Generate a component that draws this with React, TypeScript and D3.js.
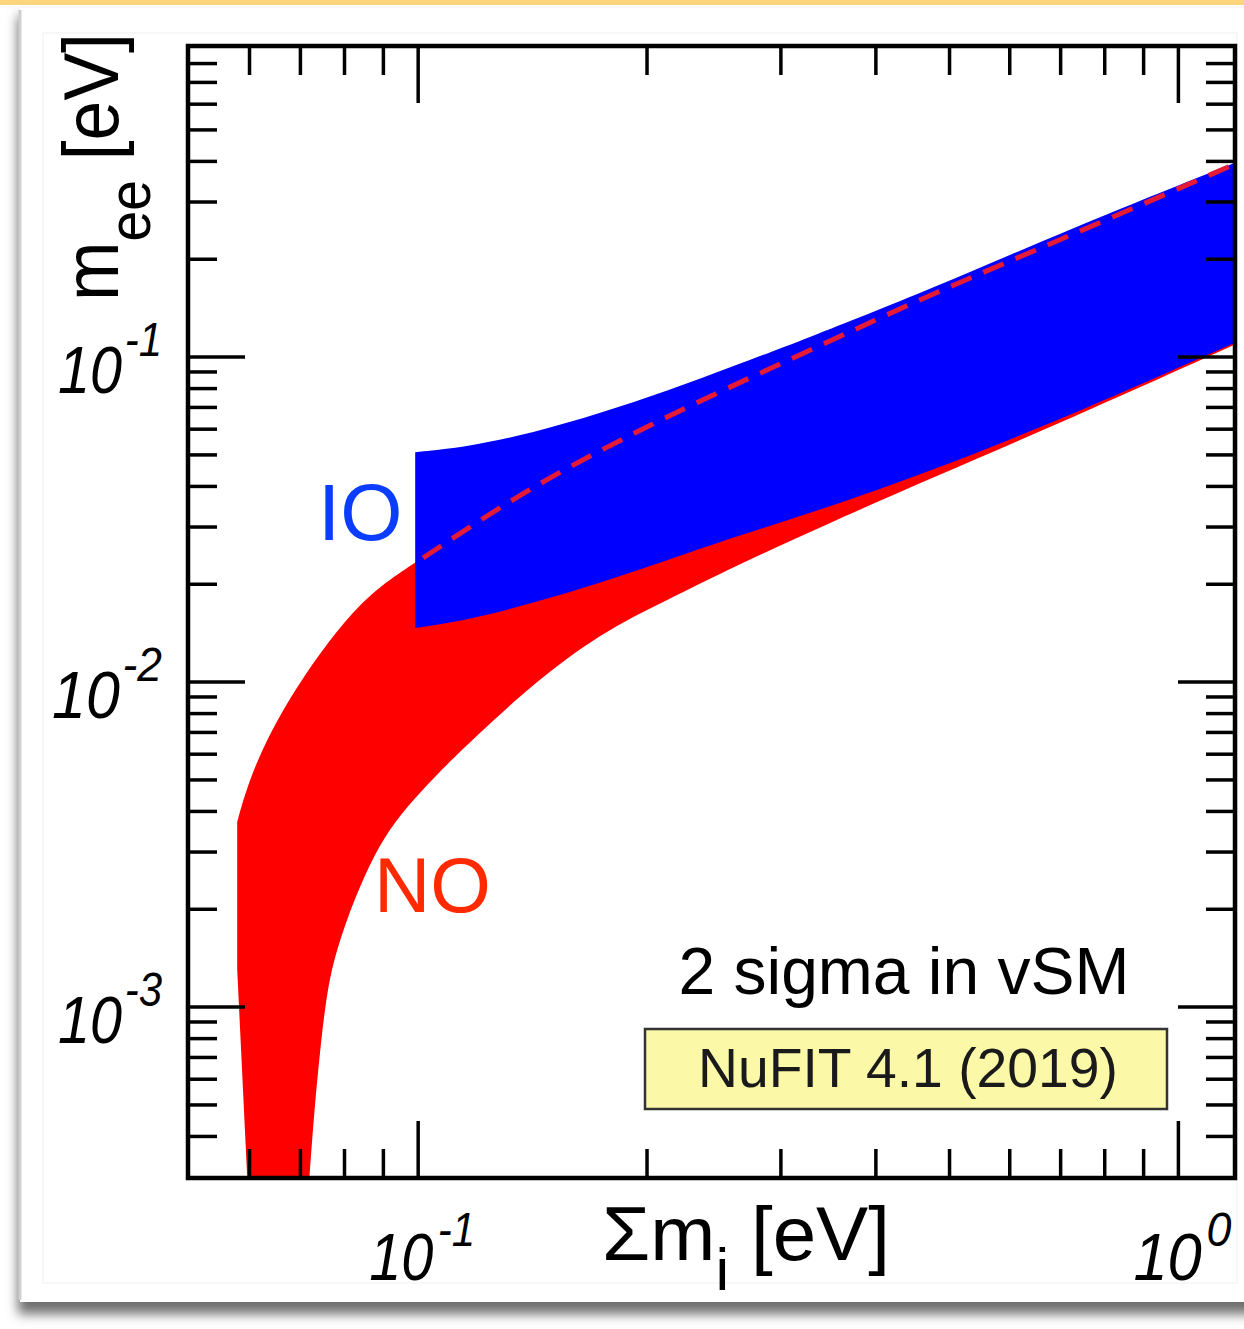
import React from 'react'
import * as d3 from 'd3'

// NO (normal ordering) band, upper edge, left to right (dashed over IO for sum >= 0.1)
const noUpperSum = [0.0578, 0.059, 0.0614, 0.0652, 0.0708, 0.0782, 0.0865, 0.0976, 0.1015, 0.1218, 0.1447, 0.1736, 0.228, 0.335, 0.476, 0.714, 1.2]
const noUpperMee = [0.00371, 0.00443, 0.00575, 0.00764, 0.0105, 0.01445, 0.0188, 0.0228, 0.0241, 0.032, 0.041, 0.0517, 0.0712, 0.1074, 0.1574, 0.234, 0.397]
// NO band, lower edge, left to right
const noLowerSum = [0.0719, 0.073, 0.0743, 0.0759, 0.0782, 0.0824, 0.0876, 0.093, 0.1006, 0.1115, 0.1233, 0.1416, 0.1736, 0.2127, 0.2598, 0.338, 0.476, 0.714, 1.2]
const noLowerMee = [0.000295, 0.000479, 0.000738, 0.001136, 0.00152, 0.00215, 0.00296, 0.00371, 0.004587, 0.00588, 0.00732, 0.00986, 0.01416, 0.01788, 0.0226, 0.03, 0.0427, 0.064, 0.1105]
// NO band, left edge, bottom to top
const noLeftSum = [0.0596, 0.0578]
const noLeftMee = [0.000295, 0.00131]

// IO (inverted ordering) band
const ioUpperSum = [0.0991, 0.116, 0.1416, 0.1736, 0.2127, 0.2598, 0.318, 0.476, 0.714, 1.2]
const ioUpperMee = [0.051, 0.0529, 0.0584, 0.0672, 0.0786, 0.0938, 0.112, 0.163, 0.246, 0.4]
const ioLowerSum = [0.0991, 0.116, 0.1416, 0.1736, 0.2127, 0.2598, 0.338, 0.476, 0.714, 1.2]
const ioLowerMee = [0.01466, 0.0155, 0.0175, 0.0202, 0.0237, 0.0279, 0.0338, 0.0449, 0.0654, 0.112]

// axes
const xDomain = [0.0498, 1.187]
const yDomain = [2.98e-4, 0.906]
const xMajor = [0.1, 1]
const xMajorExp = ['-1', '0']
const yMajor = [0.1, 0.01, 0.001]
const yMajorExp = ['-1', '-2', '-3']

const FONT = '"Liberation Sans", Arial, Helvetica, sans-serif'
const W = 1244
const H = 1329
const left = 188
const right = 1235
const top = 46
const bottom = 1178

const pts = (s: number[], m: number[]) => s.map((v, i) => [v, m[i]] as [number, number])

const App = () => {
  const x = d3.scaleLog().domain(xDomain).range([left, right])
  const y = d3.scaleLog().domain(yDomain).range([bottom, top])

  // smooth b-spline through the read-off edge points
  const line = d3
    .line<[number, number]>()
    .x((d) => x(d[0]))
    .y((d) => y(d[1]))
    .curve(d3.curveBasis)

  const band = (upper: [number, number][], lower: [number, number][], tail: [number, number][] = []) => {
    const up = line(upper) as string
    const low = line([...lower].reverse()) as string
    let d = up + 'L' + low.slice(1)
    tail.forEach((p) => {
      d += `L${x(p[0])},${y(p[1])}`
    })
    return d + 'Z'
  }

  const noUpper = pts(noUpperSum, noUpperMee)
  const noPath = band(noUpper, pts(noLowerSum, noLowerMee), pts(noLeftSum, noLeftMee))
  const ioPath = band(pts(ioUpperSum, ioUpperMee), pts(ioLowerSum, ioLowerMee))
  const dashPath = line(noUpper.filter((d) => d[0] >= 0.1)) as string

  const isMajor = (t: number) => Math.abs(Math.log10(t) - Math.round(Math.log10(t))) < 1e-6
  const xTicks = x.ticks().filter((t) => x(t) > left + 4 && x(t) < right - 4)
  const yTicks = y.ticks().filter((t) => y(t) > top + 4 && y(t) < bottom - 4)
  const minorLen = 29
  const majorLen = 57

  return (
    <svg width={W} height={H} style={{ position: 'absolute', left: 0, top: 0 }} fontFamily={FONT}>
      <defs>
        <clipPath id="plot">
          <rect x={left} y={top} width={right - left} height={bottom - top} />
        </clipPath>
        <filter id="shadow" x="-5%" y="-5%" width="110%" height="110%">
          <feGaussianBlur stdDeviation="6" />
        </filter>
      </defs>

      {/* page card */}
      <rect x={0} y={0} width={W} height={H} fill="#ffffff" />
      <rect x={18} y={16} width={1240} height={1298} fill="#6e6e6e" filter="url(#shadow)" />
      <rect x={20} y={8} width={1240} height={1294} fill="#ffffff" />
      <line x1={20} x2={20} y1={10} y2={1300} stroke="#d0d0d0" strokeWidth={3} />
      <rect x={0} y={0} width={W} height={5} fill="#fdd57e" />
      <rect x={43} y={33} width={1194} height={1250} fill="none" stroke="#f0f0f0" strokeWidth={1} />

      {/* bands */}
      <g clipPath="url(#plot)">
        <path d={noPath} fill="#ff0000" />
        <path d={ioPath} fill="#0000ff" />
        <path d={dashPath} fill="none" stroke="#e41a36" strokeWidth={5} strokeDasharray="22 13" />
      </g>

      {/* ticks */}
      <g stroke="#000" strokeWidth={3.5}>
        {xTicks.map((t) => {
          const len = isMajor(t) ? majorLen : minorLen
          return (
            <g key={'x' + t}>
              <line x1={x(t)} x2={x(t)} y1={bottom} y2={bottom - len} />
              <line x1={x(t)} x2={x(t)} y1={top} y2={top + len} />
            </g>
          )
        })}
        {yTicks.map((t) => {
          const len = isMajor(t) ? majorLen : minorLen
          return (
            <g key={'y' + t}>
              <line x1={left} x2={left + len} y1={y(t)} y2={y(t)} />
              <line x1={right} x2={right - len} y1={y(t)} y2={y(t)} />
            </g>
          )
        })}
      </g>
      <rect x={left} y={top} width={right - left} height={bottom - top} fill="none" stroke="#000" strokeWidth={4.5} />

      {/* tick labels */}
      <g fontStyle="italic" fill="#000">
        {xMajor.map((t, i) => (
          <text key={'xl' + t} x={x(t) + 4} y={1280} fontSize={66} textAnchor="middle" textLength={i === 0 ? 106 : 98} lengthAdjust="spacingAndGlyphs">
            10<tspan dx={5} dy={-34} fontSize={48}>{xMajorExp[i]}</tspan>
          </text>
        ))}
        {yMajor.map((t, i) => (
          <text key={'yl' + t} x={162} y={y(t) + 36} fontSize={66} textAnchor="end" textLength={i === 1 ? 110 : 104} lengthAdjust="spacingAndGlyphs">
            10<tspan dx={3} dy={-37} fontSize={48}>{yMajorExp[i]}</tspan>
          </text>
        ))}
      </g>

      {/* axis titles */}
      <text x={746} y={1260} fontSize={76} textAnchor="middle" textLength={288} lengthAdjust="spacingAndGlyphs">
        Σm<tspan dy={30} fontSize={60}>i</tspan><tspan dy={-30}> [eV]</tspan>
      </text>
      <text transform="translate(118,167) rotate(-90)" fontSize={78} textAnchor="middle" textLength={268} lengthAdjust="spacingAndGlyphs">
        m<tspan dy={32} fontSize={60}>ee</tspan><tspan dy={-32}> [eV]</tspan>
      </text>

      {/* annotations */}
      <text x={318} y={540} fontSize={80} fill="#0a3dff">IO</text>
      <text x={374} y={912} fontSize={78} fill="#ff2a00">NO</text>
      <text x={904} y={994} fontSize={66} textAnchor="middle" fill="#000">2 sigma in vSM</text>
      <rect x={645} y={1029} width={522} height={80} fill="#fbf8a8" stroke="#333" strokeWidth={2.5} />
      <text x={908} y={1087} fontSize={55} textAnchor="middle" fill="#1a1a1a" textLength={420} lengthAdjust="spacingAndGlyphs">
        NuFIT 4.1 (2019)
      </text>
    </svg>
  )
}

export default App
